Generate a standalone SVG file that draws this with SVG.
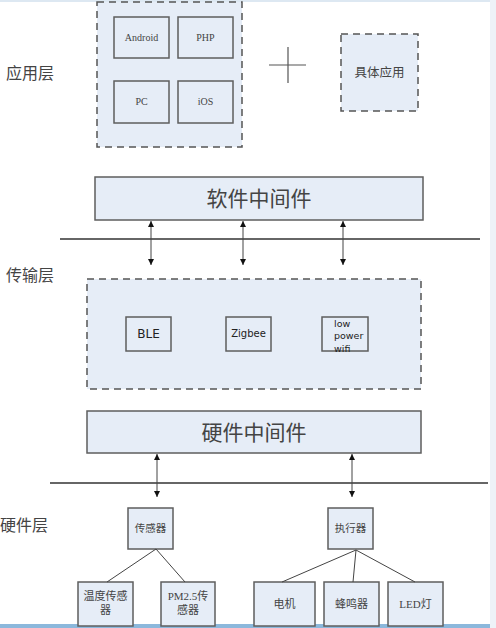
<svg xmlns="http://www.w3.org/2000/svg" width="496" height="628" viewBox="0 0 496 628">
<style>
.box{fill:#e6edf7;stroke:#5e5e5e;stroke-width:1.5}
.dash{fill:#e6edf7;stroke:#555;stroke-width:1.5;stroke-dasharray:7 5}
.ser{font-family:"Liberation Serif","Noto Sans CJK SC",serif;fill:#444;text-anchor:middle}
.cjk{font-family:"Noto Sans CJK SC",sans-serif;fill:#444}
.dv{font-family:"DejaVu Sans",sans-serif;fill:#222}
.ln{stroke:#333;stroke-width:1.5;fill:none}
.tl{stroke:#444;stroke-width:1;fill:none}
</style>
<defs>
<marker id="ah" viewBox="0 0 10 10" refX="10" refY="5" markerWidth="9" markerHeight="6" orient="auto-start-reverse" markerUnits="userSpaceOnUse">
<path d="M0,0 L10,5 L0,10 z" fill="#111"/>
</marker>
</defs>
<rect x="0" y="0" width="496" height="628" fill="#fff"/>
<rect x="0" y="0" width="496" height="2" fill="#dde8f2"/>
<rect x="490" y="0" width="6" height="628" fill="#eef2f8"/>
<rect x="0" y="624" width="490" height="4" fill="#8cb8dc"/>

<g id="labels">
<text class="cjk" x="6" y="79" font-size="16">应用层</text>
<text class="cjk" x="6" y="281" font-size="16">传输层</text>
<text class="cjk" x="0" y="531" font-size="16">硬件层</text>
</g>

<g id="app-group">
<rect class="dash" x="97" y="2" width="145" height="145"/>
</g>
<g id="android"><rect class="box" x="114" y="17" width="55" height="41"/><text class="ser" x="141.5" y="41" font-size="10">Android</text></g>
<g id="php"><rect class="box" x="178" y="17" width="55" height="41"/><text class="ser" x="205.5" y="41" font-size="10">PHP</text></g>
<g id="pc"><rect class="box" x="114" y="81" width="55" height="42"/><text class="ser" x="141.5" y="105" font-size="10">PC</text></g>
<g id="ios"><rect class="box" x="178" y="81" width="55" height="42"/><text class="ser" x="205.5" y="105" font-size="10">iOS</text></g>
<g id="plus"><path d="M269,65 H306 M288,47 V83" stroke="#555" stroke-width="1.2" fill="none"/></g>
<g id="specific-app"><rect class="dash" x="341" y="34" width="77" height="77"/><text class="ser" x="379.5" y="77" font-size="12.5" fill="#555">具体应用</text></g>

<g id="soft-mw"><rect class="box" x="95" y="177" width="328" height="43"/><text class="cjk" x="259" y="206" font-size="21" text-anchor="middle">软件中间件</text></g>

<g id="transport-group"><rect class="dash" x="87" y="279" width="334" height="110" stroke="#666" stroke-dasharray="8 5"/></g>
<g id="ble"><rect class="box" x="126" y="317" width="45" height="34"/><text class="dv" x="148.5" y="338" font-size="12" text-anchor="middle">BLE</text></g>
<g id="zigbee"><rect class="box" x="226" y="317" width="45" height="34"/><text class="dv" x="248.5" y="337" font-size="10" text-anchor="middle">Zigbee</text></g>
<g id="lowpower"><rect class="box" x="322" y="317" width="46" height="34"/>
<text class="dv" font-size="9.5"><tspan x="334" y="327">low</tspan><tspan x="334" y="339">power</tspan><tspan x="334" y="352">wifi</tspan></text></g>

<g id="hard-mw"><rect class="box" x="87" y="411" width="334" height="42"/><text class="cjk" x="254" y="440" font-size="21" text-anchor="middle">硬件中间件</text></g>

<g id="sensor"><rect class="box" x="128" y="508" width="45" height="41"/><text class="ser" x="150.5" y="532" font-size="10.5">传感器</text></g>
<g id="actuator"><rect class="box" x="328" y="508" width="45" height="41"/><text class="ser" x="350.5" y="532" font-size="10.5">执行器</text></g>
<g id="temp"><rect class="box" x="78" y="582" width="55" height="44"/><text class="ser" font-size="11"><tspan x="105.5" y="600">温度传感</tspan><tspan x="105.5" y="614">器</tspan></text></g>
<g id="pm25"><rect class="box" x="161" y="582" width="54" height="44"/><text class="ser" font-size="11"><tspan x="188" y="600">PM2.5传</tspan><tspan x="188" y="614">感器</tspan></text></g>
<g id="motor"><rect class="box" x="254" y="582" width="61" height="44"/><text class="ser" x="284.5" y="608" font-size="11">电机</text></g>
<g id="buzzer"><rect class="box" x="324" y="582" width="55" height="44"/><text class="ser" x="351.5" y="608" font-size="11">蜂鸣器</text></g>
<g id="led"><rect class="box" x="388" y="582" width="55" height="44"/><text class="ser" x="415.5" y="608" font-size="11">LED灯</text></g>

<g id="connectors">
<line class="ln" x1="60" y1="239" x2="480" y2="239"/>
<line class="ln" x1="50" y1="483" x2="488" y2="483"/>
<line class="tl" x1="151" y1="221" x2="151" y2="265" marker-start="url(#ah)" marker-end="url(#ah)"/>
<line class="tl" x1="243" y1="221" x2="243" y2="265" marker-start="url(#ah)" marker-end="url(#ah)"/>
<line class="tl" x1="343" y1="221" x2="343" y2="265" marker-start="url(#ah)" marker-end="url(#ah)"/>
<line class="tl" x1="157" y1="454" x2="157" y2="497" marker-start="url(#ah)" marker-end="url(#ah)"/>
<line class="tl" x1="352" y1="454" x2="352" y2="497" marker-start="url(#ah)" marker-end="url(#ah)"/>
<line class="tl" x1="156" y1="549" x2="107" y2="582"/>
<line class="tl" x1="156" y1="549" x2="185" y2="582"/>
<line class="tl" x1="356" y1="550" x2="282" y2="582"/>
<line class="tl" x1="356" y1="550" x2="353" y2="582"/>
<line class="tl" x1="356" y1="550" x2="415" y2="582"/>
</g>
</svg>
